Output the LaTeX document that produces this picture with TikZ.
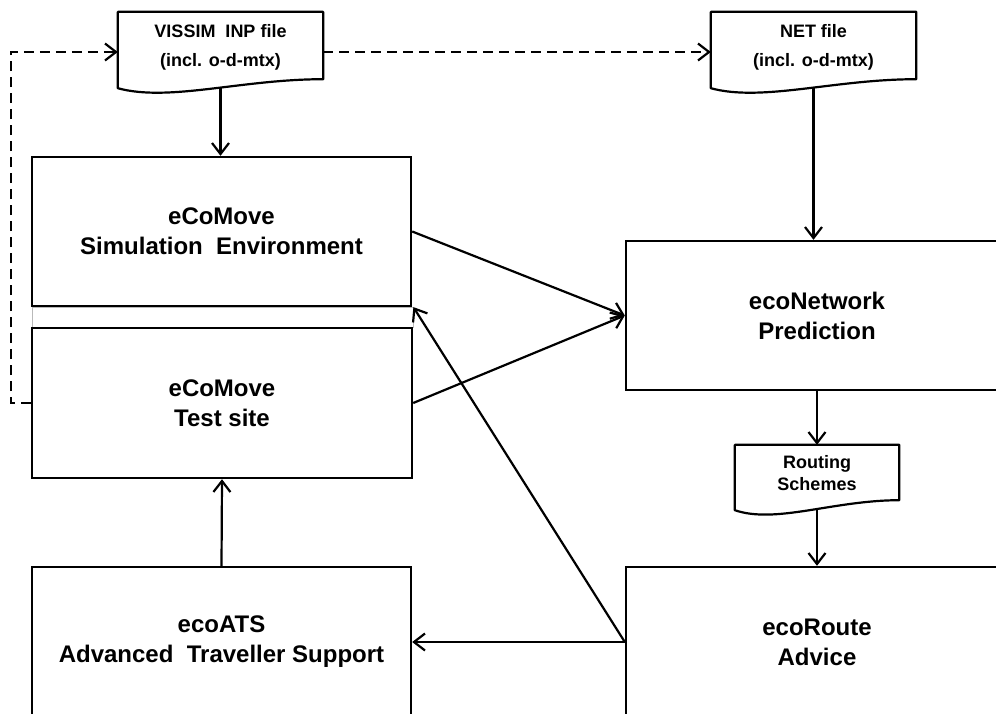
\documentclass[tikz,border=0pt]{standalone}
\usepackage{fontspec}
\setmainfont{Liberation Sans}
\usetikzlibrary{arrows.meta,calc}
\newcommand{\mydoc}[4]{%
  \draw[docline] (#1.north west) -- (#1.north east) -- ([yshift=#2pt]#1.south east)
    .. controls +(-0.4*#4,0) and +(0.25*#4,14) .. ([yshift=-#3pt]#1.south west) -- cycle;}
\begin{document}
\begin{tikzpicture}[x=1pt,y=-1pt,
  box/.style={draw, line width=2.4pt, minimum width=380pt, minimum height=150pt,
    align=center, inner sep=0pt, font=\fontsize{24}{30}\selectfont\bfseries,
    execute at begin node={\rule{0pt}{21.5pt}}},
  doctext/.style={align=center, inner sep=0pt, font=\fontsize{18}{29}\selectfont\bfseries},
  docline/.style={draw, line width=2.2pt, line join=round},
  arr/.style={line width=2.2pt, -{Straight Barb[length=11pt,width=17pt,line width=2.2pt]}},
  dasharr/.style={arr, dash pattern=on 10pt off 6pt}]
\useasboundingbox (0,0) rectangle (996,713);
\clip (0,0) rectangle (996,713);

% faint strip between the two upper boxes
\node[draw=gray!55, line width=0.8pt, minimum width=381pt, minimum height=20pt, inner sep=0pt] (gap) at (222.5,317.5) {};

% boxes
\node[box, minimum width=379pt, minimum height=149pt] (sim) at (221.5,231.5) {eCoMove\\Simulation\ \ Environment};
\node[box] (test) at (222,403) {eCoMove\\Test site};
\node[box, minimum width=379pt] (ats) at (221.5,642) {ecoATS\\Advanced\ \ Traveller Support};
\node[box, minimum width=382pt, minimum height=149pt] (pred) at (817,315.5) {ecoNetwork\\Prediction};
\node[box, minimum width=382pt] (route) at (817,642) {ecoRoute\\Advice};

% documents
\node[doctext, minimum width=205pt, minimum height=71pt, execute at begin node={\rule{0pt}{17.5pt}}] (vis) at (220.5,47.5) {VISSIM\ \ INP file\\(incl. o-d-mtx)};
\node[doctext, minimum width=205pt, minimum height=71pt, execute at begin node={\rule{0pt}{17.5pt}}] (net) at (813.5,47.5) {NET file\\(incl. o-d-mtx)};
\node[doctext, font=\fontsize{18}{22}\selectfont\bfseries, minimum width=164pt, minimum height=56pt] (rout) at (817,473) {Routing\\Schemes};
\mydoc{vis}{4}{5}{205}
\mydoc{net}{4}{5}{205}
\mydoc{rout}{1}{9}{164}

% connectors
\draw[arr] ([yshift=-5pt]vis.south) -- (vis.south |- sim.north);
\draw[arr] ([yshift=-5pt]net.south) -- (net.south |- pred.north);
\draw[arr] (pred.south) -- (rout.north);
\draw[arr] ([yshift=-8.5pt]rout.south) -- (rout.south |- route.north);
\draw[arr] (route.west) -- (ats.east);
\draw[arr] (route.west) -- (gap.north east);
\draw[arr] (ats.north) -- (test.south);
\draw[arr] (sim.east) -- (pred.west);
\draw[arr] (test.east) -- (pred.west);
\draw[dasharr] (test.west) -- ++(-20,0) |- ([yshift=-4.5pt]vis.west);
\draw[dasharr] ([yshift=-4.5pt]vis.east) -- ([yshift=-4.5pt]net.west);
\end{tikzpicture}
\end{document}
